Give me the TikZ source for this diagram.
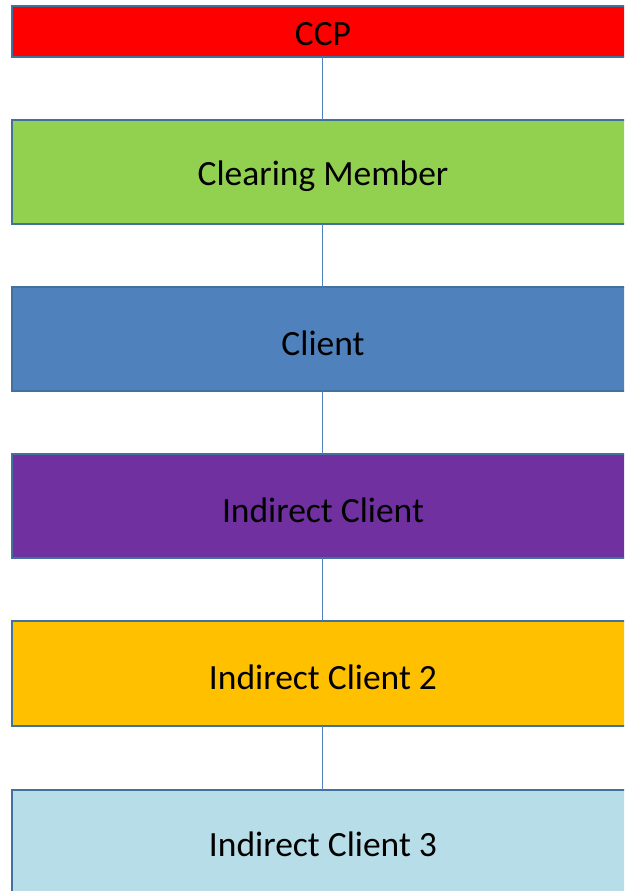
\documentclass[tikz,border=0pt]{standalone}
\usepackage{fontspec}
\setmainfont{Carlito}
\definecolor{bordc}{HTML}{41719C}
\definecolor{ccpc}{HTML}{FF0000}
\definecolor{cmc}{HTML}{92D050}
\definecolor{clc}{HTML}{4F81BD}
\definecolor{icc}{HTML}{7030A0}
\definecolor{ic2c}{HTML}{FFC000}
\definecolor{ic3c}{HTML}{B7DEE8}
\begin{document}
\begin{tikzpicture}[x=1pt,y=-1pt,
  box/.style={draw=bordc, line width=2.8pt, minimum width=620pt, inner sep=0pt, outer sep=0pt},
  lbl/.style={font=\fontsize{35.5}{38}\selectfont, text=black, inner sep=0pt},
  link/.style={draw=clc, line width=1pt}]
\useasboundingbox (0,0) rectangle (624,891);
\clip (0,0) rectangle (624,891);
\node[box, fill=ccpc, minimum height=51pt] (ccp) at (322,31.5) {};
\node[box, fill=cmc, minimum height=104pt] (cm) at (322,172) {};
\node[box, fill=clc, minimum height=104pt] (cl) at (322,339) {};
\node[box, fill=icc, minimum height=104pt] (ic) at (322,506) {};
\node[box, fill=ic2c, minimum height=105pt] (ic2) at (322,673.5) {};
\node[box, fill=ic3c, minimum height=110pt] (ic3) at (322,845) {};
\node[lbl] (ccp-t) at (323,34) {CCP};
\node[lbl] (cm-t) at (323,176) {Clearing Member};
\node[lbl] (cl-t) at (323,343) {Client};
\node[lbl] (ic-t) at (323,510) {Indirect Client};
\node[lbl] (ic2-t) at (323,677) {Indirect Client 2};
\node[lbl] (ic3-t) at (323,844) {Indirect Client 3};
\draw[link] (ccp.south) -- (cm.north);
\draw[link] (cm.south) -- (cl.north);
\draw[link] (cl.south) -- (ic.north);
\draw[link] (ic.south) -- (ic2.north);
\draw[link] (ic2.south) -- (ic3.north);
\end{tikzpicture}
\end{document}
